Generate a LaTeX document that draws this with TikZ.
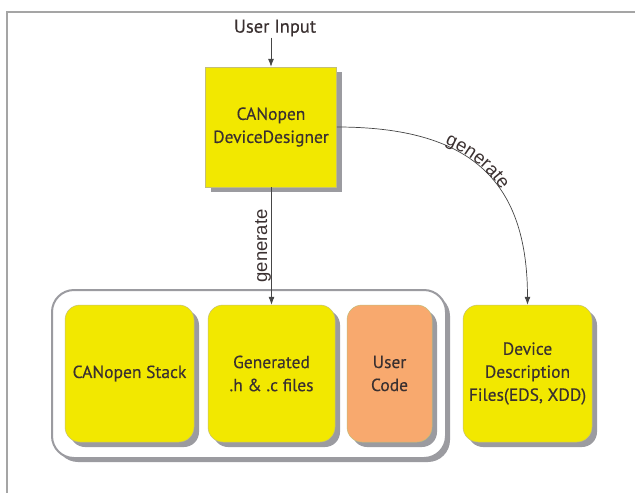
\documentclass[tikz,border=0pt]{standalone}
\usepackage{fontspec}
\setmainfont{PT Sans}[FakeBold=0.35]
\newfontfamily\lblfont{Liberation Sans}
\usetikzlibrary{arrows.meta,shadows,decorations.text}
\definecolor{yfill}{RGB}{242,232,0}
\definecolor{ofill}{RGB}{248,169,110}
\definecolor{shgray}{RGB}{155,155,160}
\definecolor{txt}{RGB}{58,48,48}
\definecolor{framegray}{RGB}{165,165,165}
\definecolor{linegray}{RGB}{70,70,70}
\definecolor{bordery}{RGB}{195,190,120}
\begin{document}
\begin{tikzpicture}[x=1pt,y=-1pt,
  boxbase/.style={draw=bordery, line width=0.5pt, text=txt,
    font=\fontsize{17.5}{23}\selectfont, align=center, inner sep=0pt,
    general shadow={fill=shgray, shadow xshift=5pt, shadow yshift=-5pt}},
  yellowbox/.style={boxbase, fill=yfill},
  orangebox/.style={boxbase, fill=ofill},
  roundbox/.style={rounded corners=15pt, minimum height=137pt},
  containerbox/.style={draw=shgray, line width=2pt, fill=white, rounded corners=22pt,
    general shadow={fill=shgray, shadow xshift=4pt, shadow yshift=-4pt}},
  conn/.style={draw=linegray, line width=0.7pt, -{Latex[length=8pt,width=6pt]}},
  lbl/.style={font=\lblfont\fontsize{18.5}{18.5}\selectfont, text=txt}
]
\useasboundingbox (0,0) rectangle (635,493);
\draw[framegray, line width=1.3pt] (635,12) -- (7,12) -- (7,493);

\node[font=\fontsize{18.5}{18.5}\selectfont, text=txt, inner sep=1pt] (ui) at (275,28) {User Input};
\node[yellowbox, minimum width=131pt, minimum height=120pt] (dd) at (271,127) {CANopen\\DeviceDesigner};

\node[containerbox, minimum width=394pt, minimum height=168pt] (cont) at (249,374) {};
\node[yellowbox, roundbox, minimum width=129pt] (stack) at (129.5,373.5) {CANopen Stack};
\node[yellowbox, roundbox, minimum width=127pt] (gen) at (271.5,373.5) {Generated\\.h \& .c files};
\node[orangebox, roundbox, minimum width=85pt] (user) at (389.5,373.5) {User\\Code};
\node[yellowbox, roundbox, minimum width=129pt] (dev) at (527.5,373.5) {Device\\Description\\Files(EDS, XDD)};

\draw[conn] (ui.south -| dd.north) -- (dd.north);
\draw[conn] (dd.south -| gen.north) -- (gen.north);
\node[lbl, rotate=90, anchor=base, inner sep=0pt] (glab) at (267,246) {generate};
\draw[conn, postaction={decorate, decoration={text along path,
    text={|\lblfont\fontsize{18.5}{18.5}\selectfont|generate}, text color=txt,
    text align={left indent=110pt}, raise=1pt}}]
  (dd.east) .. controls +(133,0) and +(0,-125) .. (dev.north);
\end{tikzpicture}
\end{document}
